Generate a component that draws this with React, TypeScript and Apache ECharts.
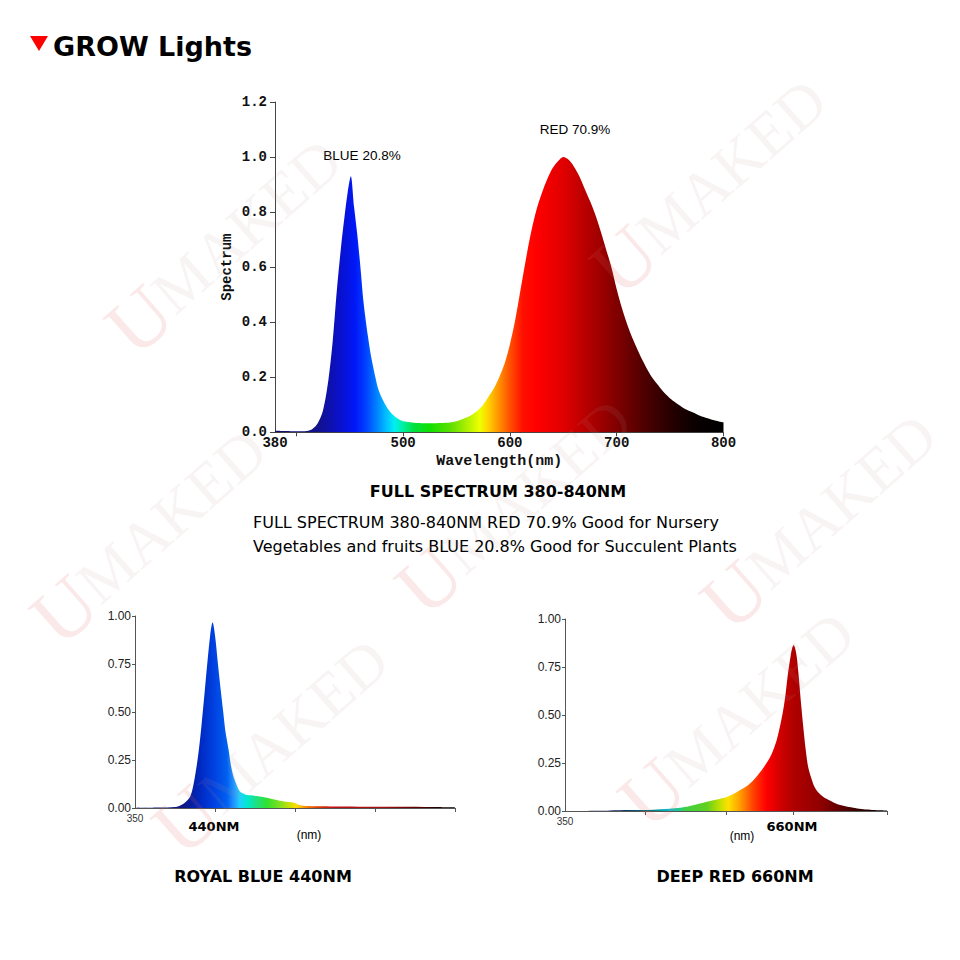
import React, { useEffect, useRef } from "react";
import * as echarts from "echarts";

// ---------- DATA ----------
const pageTitle = "GROW Lights";
const mainTitle = "FULL SPECTRUM 380-840NM";
const mainDescLines = [
  "FULL SPECTRUM 380-840NM RED 70.9% Good for Nursery",
  "Vegetables and fruits BLUE 20.8% Good for Succulent Plants",
];
const blueLabel = "BLUE 20.8%";
const redLabel = "RED 70.9%";
const leftTitle = "ROYAL BLUE 440NM";
const rightTitle = "DEEP RED 660NM";
const leftPeakLabel = "440NM";
const rightPeakLabel = "660NM";
const unitLabel = "(nm)";
const watermarkText = "MAKED";

const mainXTickLabels = [380, 500, 600, 700, 800];
const mainXTicks = [400, 500, 600, 700, 800];
const leftXTicks = [450, 550, 650, 750];
const rightXTicks = [450, 550, 633, 750];
const smallXLabels = [350];

// full spectrum (wavelength nm, relative spectrum)
const mainWavelength = [
  380, 390, 400, 410, 415, 420, 425, 430, 434, 438, 442, 445, 448, 451, 454, 457, 460, 463, 467, 470,
  474, 477, 482, 487, 492, 497, 503, 510, 520, 527, 535, 544, 550, 557, 564, 570, 575, 580, 585, 590,
  595, 600, 605, 610, 615, 620, 625, 630, 635, 640, 645, 650, 655, 660, 665, 670, 675, 680, 685, 690,
  695, 700, 705, 710, 715, 721, 727, 733, 739, 745, 751, 758, 764, 771, 778, 785, 792, 800,
];
const mainSpectrum = [
  0.006, 0.005, 0.004, 0.005, 0.012, 0.033, 0.08, 0.19, 0.33, 0.52, 0.68, 0.78, 0.87, 0.93, 0.82, 0.72, 0.6, 0.47, 0.35, 0.275,
  0.2, 0.154, 0.11, 0.078, 0.058, 0.045, 0.038, 0.035, 0.033, 0.033, 0.034, 0.036, 0.04, 0.05, 0.063, 0.08, 0.1, 0.13, 0.16, 0.2,
  0.25, 0.32, 0.41, 0.52, 0.63, 0.73, 0.81, 0.87, 0.92, 0.96, 0.985, 1.0, 0.99, 0.965, 0.93, 0.885, 0.84, 0.79, 0.73, 0.665,
  0.6, 0.52, 0.45, 0.39, 0.34, 0.287, 0.24, 0.2, 0.17, 0.142, 0.12, 0.1, 0.085, 0.073, 0.06, 0.051, 0.043, 0.036,
];

// royal blue (axis units)
const blueX = [
  350, 380, 400, 406, 413, 419, 423, 427, 430, 433, 437, 440, 444, 447, 450, 454, 457, 460, 463, 467,
  470, 473, 477, 481, 487, 494, 502, 510, 520, 531, 540, 550, 556, 565, 577, 600, 640, 680, 722, 750,
];
const blueY = [
  0, 0.002, 0.005, 0.012, 0.03, 0.06, 0.12, 0.217, 0.31, 0.425, 0.6, 0.737, 0.9, 0.967, 0.9, 0.737, 0.62, 0.51, 0.4, 0.303,
  0.22, 0.165, 0.12, 0.087, 0.072, 0.066, 0.062, 0.057, 0.048, 0.038, 0.032, 0.026, 0.014, 0.01, 0.009, 0.008, 0.007, 0.006, 0.005, 0.003,
];

// deep red (axis units)
const redX = [
  350, 400, 406, 430, 460, 480, 493, 504, 514, 524, 534, 543, 551, 559, 567, 576, 584, 592, 600, 607,
  613, 617, 621, 624, 627, 630, 632, 634, 636, 638, 640, 643, 646, 649, 652, 656, 660, 665, 671, 679,
  687, 697, 708, 718, 729, 740, 750,
];
const redY = [
  0, 0.001, 0.003, 0.005, 0.007, 0.012, 0.017, 0.025, 0.035, 0.045, 0.056, 0.064, 0.073, 0.088, 0.108, 0.13, 0.16, 0.2, 0.247, 0.3,
  0.37, 0.44, 0.525, 0.61, 0.717, 0.8, 0.845, 0.864, 0.845, 0.8, 0.717, 0.57, 0.438, 0.32, 0.23, 0.17, 0.125, 0.095, 0.073, 0.055,
  0.038, 0.026, 0.017, 0.011, 0.007, 0.004, 0.003,
];

// ---------- STYLES ----------
const MONO = "'Liberation Mono', 'DejaVu Sans Mono', monospace";
const SANS = "'Liberation Sans', Arial, sans-serif";
const WIDE = "'DejaVu Sans', Verdana, sans-serif";
const SERIF = "'Liberation Serif', 'DejaVu Serif', serif";

const mainStops: [number, string][] = [
  [380, "#10106a"], [420, "#12128a"], [440, "#0a10c8"], [455, "#0018f8"], [465, "#0040ff"],
  [475, "#0080ff"], [485, "#00c4ff"], [492, "#00f0f0"], [500, "#00f0a0"], [510, "#00e040"],
  [525, "#10e000"], [545, "#60e000"], [560, "#b0f000"], [572, "#f0ff00"], [580, "#ffd000"],
  [590, "#ff9000"], [600, "#ff5000"], [612, "#ff1000"], [625, "#ff0000"], [650, "#e00000"],
  [675, "#b00000"], [700, "#800000"], [725, "#500000"], [750, "#280000"], [775, "#080000"], [800, "#000000"],
];
const blueStops: [number, string][] = [
  [350, "#101870"], [410, "#101880"], [431, "#0028c0"], [448, "#0040e0"], [465, "#0060f0"],
  [473, "#2090ff"], [481, "#20d0ff"], [490, "#00e8d0"], [502, "#20e080"], [515, "#30e030"],
  [531, "#80e020"], [544, "#d0e000"], [552, "#ffe000"], [562, "#ff9000"], [577, "#e04000"],
  [598, "#c01010"], [660, "#a01010"], [702, "#600000"], [722, "#300000"], [750, "#000000"],
];
const redStops: [number, string][] = [
  [350, "#102060"], [410, "#102060"], [460, "#008080"], [480, "#00c0d0"], [501, "#40d040"],
  [526, "#60d020"], [542, "#c0e000"], [553, "#ffe000"], [567, "#ffa000"], [584, "#ff4000"],
  [600, "#ff0000"], [621, "#c80000"], [634, "#b00000"], [667, "#900000"], [700, "#500000"],
  [729, "#200000"], [750, "#000000"],
];

function gradient(xs: number[], stops: [number, string][]) {
  const lo = xs[0];
  const hi = xs[xs.length - 1];
  return new echarts.graphic.LinearGradient(
    0, 0, 1, 0,
    stops.map(([w, c]) => ({ offset: Math.min(1, Math.max(0, (w - lo) / (hi - lo))), color: c }))
  );
}

function zip(xs: number[], ys: number[]) {
  return xs.map((x, i) => [x, ys[i]]);
}

const wmPositions = [
  [225, 245], [710, 185], [150, 535], [515, 505], [820, 520], [272, 745], [738, 718],
];

function buildOption() {
  const smallY = (grid: number) => ({
    gridIndex: grid,
    type: "value",
    min: 0,
    max: 1,
    interval: 0.25,
    splitLine: { show: false },
    axisLine: { show: true, lineStyle: { color: "#555", width: 1 } },
    axisTick: { show: true, length: 3, lineStyle: { color: "#555" } },
    axisLabel: {
      formatter: (v: number) => v.toFixed(2),
      fontFamily: SANS,
      fontSize: 12,
      color: "#222",
      margin: 4,
    },
  });
  const smallX = (grid: number, ticks: number[]) => ({
    gridIndex: grid,
    type: "value",
    min: 350,
    max: 750,
    interval: 100,
    splitLine: { show: false },
    axisLine: { show: true, lineStyle: { color: "#555", width: 1 } },
    axisTick: { show: true, length: 4, customValues: ticks, lineStyle: { color: "#555" } },
    axisLabel: { customValues: smallXLabels, fontFamily: SANS, fontSize: 10, color: "#333", margin: 5 },
  });

  const graphic: any[] = [];
  wmPositions.forEach(([x, y]) => {
    graphic.push({
      type: "text",
      x,
      y,
      rotation: 0.72,
      z: 100,
      silent: true,
      style: {
        text: "{u|U}{m|" + watermarkText + "}",
        align: "center",
        verticalAlign: "middle",
        rich: {
          u: { fontFamily: SERIF, fontSize: 80, fill: "rgba(225,100,100,0.14)" },
          m: { fontFamily: SERIF, fontSize: 62, fill: "rgba(190,150,150,0.10)" },
        },
      },
    });
  });

  graphic.push(
    {
      type: "polygon",
      shape: { points: [[30, 36], [48, 36], [39, 51]] },
      style: { fill: "#ff0000" },
    },
    {
      type: "text",
      x: 53,
      y: 46,
      style: { text: pageTitle, fontFamily: WIDE, fontWeight: "bold", fontSize: 27, fill: "#000", align: "left", verticalAlign: "middle" },
    },
    {
      type: "text",
      x: 362,
      y: 155,
      style: { text: blueLabel, fontFamily: SANS, fontSize: 13.5, fill: "#000", align: "center", verticalAlign: "middle" },
    },
    {
      type: "text",
      x: 575,
      y: 129,
      style: { text: redLabel, fontFamily: SANS, fontSize: 13.5, fill: "#000", align: "center", verticalAlign: "middle" },
    },
    {
      type: "text",
      x: 498,
      y: 491,
      style: { text: mainTitle, fontFamily: WIDE, fontWeight: "bold", fontSize: 16, fill: "#000", align: "center", verticalAlign: "middle" },
    },
    {
      type: "text",
      x: 253,
      y: 522,
      style: { text: mainDescLines[0], fontFamily: WIDE, fontSize: 16, fill: "#000", align: "left", verticalAlign: "middle" },
    },
    {
      type: "text",
      x: 253,
      y: 546,
      style: { text: mainDescLines[1], fontFamily: WIDE, fontSize: 16, fill: "#000", align: "left", verticalAlign: "middle" },
    },
    {
      type: "text",
      x: 214,
      y: 826,
      style: { text: leftPeakLabel, fontFamily: WIDE, fontWeight: "bold", fontSize: 13, fill: "#000", align: "center", verticalAlign: "middle" },
    },
    {
      type: "text",
      x: 792,
      y: 826,
      style: { text: rightPeakLabel, fontFamily: WIDE, fontWeight: "bold", fontSize: 13, fill: "#000", align: "center", verticalAlign: "middle" },
    },
    {
      type: "text",
      x: 309,
      y: 835,
      style: { text: unitLabel, fontFamily: SANS, fontSize: 12, fill: "#000", align: "center", verticalAlign: "middle" },
    },
    {
      type: "text",
      x: 742,
      y: 836,
      style: { text: unitLabel, fontFamily: SANS, fontSize: 12, fill: "#000", align: "center", verticalAlign: "middle" },
    },
    {
      type: "text",
      x: 263,
      y: 876,
      style: { text: leftTitle, fontFamily: WIDE, fontWeight: "bold", fontSize: 16, fill: "#000", align: "center", verticalAlign: "middle" },
    },
    {
      type: "text",
      x: 735,
      y: 876,
      style: { text: rightTitle, fontFamily: WIDE, fontWeight: "bold", fontSize: 16, fill: "#000", align: "center", verticalAlign: "middle" },
    }
  );

  const areaSeries = (xi: number, xs: number[], ys: number[], stops: [number, string][]) => ({
    type: "line",
    xAxisIndex: xi,
    yAxisIndex: xi,
    data: zip(xs, ys),
    smooth: 0.3,
    symbol: "none",
    showSymbol: false,
    lineStyle: { width: 0 },
    areaStyle: { color: gradient(xs, stops), opacity: 1 },
    silent: true,
  });

  return {
    animation: false,
    backgroundColor: "#ffffff",
    grid: [
      { left: 275, top: 102, width: 448.5, height: 330.3 },
      { left: 135, top: 616, width: 320, height: 192 },
      { left: 565, top: 619, width: 322, height: 192 },
    ],
    xAxis: [
      {
        gridIndex: 0,
        type: "value",
        min: 380,
        max: 800,
        splitLine: { show: false },
        axisLine: { show: true, lineStyle: { color: "#444", width: 1 } },
        axisTick: { show: true, length: 4, customValues: mainXTicks, lineStyle: { color: "#444" } },
        axisLabel: {
          customValues: mainXTickLabels,
          fontFamily: MONO,
          fontWeight: "bold",
          fontSize: 14,
          lineHeight: 12,
          color: "#111",
          margin: 5,
        },
        name: "Wavelength(nm)",
        nameLocation: "middle",
        nameGap: 22,
        nameTextStyle: { fontFamily: MONO, fontWeight: "bold", fontSize: 15, color: "#111" },
      },
      smallX(1, leftXTicks),
      smallX(2, rightXTicks),
    ],
    yAxis: [
      {
        gridIndex: 0,
        type: "value",
        min: 0,
        max: 1.2,
        interval: 0.2,
        splitLine: { show: false },
        axisLine: { show: true, lineStyle: { color: "#444", width: 1 } },
        axisTick: { show: true, length: 5, lineStyle: { color: "#444" } },
        axisLabel: {
          formatter: (v: number) => v.toFixed(1),
          fontFamily: MONO,
          fontWeight: "bold",
          fontSize: 14,
          lineHeight: 10,
          color: "#111",
          margin: 8,
        },
        name: "Spectrum",
        nameLocation: "middle",
        nameGap: 41,
        nameTextStyle: { fontFamily: MONO, fontWeight: "bold", fontSize: 14, color: "#111" },
      },
      smallY(1),
      smallY(2),
    ],
    series: [
      areaSeries(0, mainWavelength, mainSpectrum, mainStops),
      areaSeries(1, blueX, blueY, blueStops),
      areaSeries(2, redX, redY, redStops),
    ],
    graphic,
  };
}

export default function App() {
  const ref = useRef<HTMLDivElement>(null);
  useEffect(() => {
    if (!ref.current) return;
    const chart = echarts.init(ref.current, null, { renderer: "svg", width: 960, height: 960 });
    chart.setOption(buildOption() as any);
    return () => chart.dispose();
  }, []);
  return (
    <div
      ref={ref}
      style={{ position: "absolute", left: 0, top: 0, width: 960, height: 960, background: "#fff" }}
    />
  );
}
